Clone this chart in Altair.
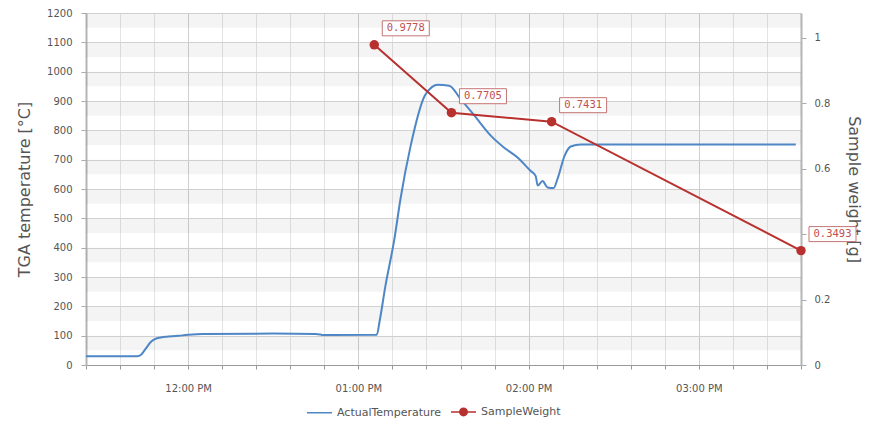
import altair as alt
import pandas as pd

# ---- data ----
temp_times = ["11:24:00", "11:42:00", "11:43:30", "11:45:00", "11:47:00", "11:49:00",
              "11:53:00", "11:58:00", "12:05:00", "12:30:00", "12:45:00", "12:48:00",
              "13:06:30", "13:07:30", "13:09:30", "13:12:40", "13:14:50", "13:18:25",
              "13:23:20", "13:26:00", "13:28:00", "13:32:00", "13:36:00", "13:41:00",
              "13:46:35", "13:51:30", "13:56:00", "14:00:40", "14:02:30", "14:03:10",
              "14:04:55", "14:06:40", "14:08:50", "14:10:10", "14:12:40", "14:14:50",
              "14:18:25", "15:34:10"]
temp_values = [30, 30, 36, 55, 80, 91,
               97, 101, 106, 107, 106, 102,
               103, 150, 268, 428, 566, 747,
               917, 948, 955, 952, 907, 849,
               783, 740, 708, 662, 644, 612,
               627, 605, 603, 634, 713, 745,
               752, 752]

weight_times = ["13:05:36", "13:32:48", "14:08:06", "15:36:00"]
weight_values = [0.9778, 0.7705, 0.7431, 0.3493]

series_names = ["ActualTemperature", "SampleWeight"]
series_colors = ["#4f86c6", "#b8312f"]

temp_ticks = list(range(0, 1201, 100))
weight_ticks = [0, 0.2, 0.4, 0.6, 0.8, 1]

DAY = "2024-01-01T"
temp_df = pd.DataFrame({"time": [DAY + t for t in temp_times], "temp": temp_values})
weight_df = pd.DataFrame({"time": [DAY + t for t in weight_times], "w": weight_values})
legend_df = pd.DataFrame({"series": series_names})
band_df = pd.DataFrame({"lo": [v + 50 for v in temp_ticks[:-1]],
                        "hi": [v + 100 for v in temp_ticks[:-1]]})


def dt(h, m):
    return alt.DateTime(year=2024, month=1, date=1, hours=h, minutes=m)


x_values = [dt((11 * 60 + 24 + 12 * i) // 60, (11 * 60 + 24 + 12 * i) % 60) for i in range(22)]

FONT = "DejaVu Sans"
x_axis = alt.Axis(
    values=x_values,
    labelExpr="minutes(datum.value) == 0 ? timeFormat(datum.value, '%I:%M %p') : ''",
    title=None, grid=True,
    gridColor=alt.condition("minutes(datum.value) == 0", alt.value("#cfcfcf"), alt.value("#e4e4e4")),
    tickSize=4, tickColor="#999", domainColor="#999", labelPadding=14,
    labelFont=FONT, labelFontSize=10, labelColor="#555",
)
x_scale = alt.Scale(domain=[dt(11, 24), dt(15, 36)])
x_enc = alt.X("time:T", scale=x_scale, axis=x_axis)

y_temp_axis = alt.Axis(
    values=temp_ticks, title="TGA temperature [°C]", orient="left", format="d",
    grid=True, gridColor="#d9d9d9", tickSize=5, tickColor="#aaa",
    domainColor="#b5b5b5", domainWidth=2, labelPadding=9,
    labelFont=FONT, labelFontSize=10, labelColor="#555",
    titleFont=FONT, titleFontSize=16, titleFontWeight="normal", titleColor="#555",
    titlePadding=14,
)
y_temp_scale = alt.Scale(domain=[0, 1200], nice=False)

y_w_axis = alt.Axis(
    values=weight_ticks, title="Sample weight [g]", orient="right",
    labelExpr="datum.value == 0.4 ? '' : format(datum.value, '~g')",
    grid=False, tickSize=5, tickColor="#aaa", domainColor="#b5b5b5", domainWidth=2,
    labelPadding=8, labelFont=FONT, labelFontSize=10, labelColor="#555",
    titleFont=FONT, titleFontSize=16, titleFontWeight="normal", titleColor="#555",
    titlePadding=16,
)
y_w_scale = alt.Scale(domain=[0, 1.075], nice=False)

bands = alt.Chart(band_df).mark_rect(color="#000", opacity=0.045).encode(
    y=alt.Y("lo:Q", scale=y_temp_scale, axis=y_temp_axis),
    y2="hi:Q",
)
temp_line = alt.Chart(temp_df).mark_line(color=series_colors[0], strokeWidth=2,
                                         interpolate="monotone").encode(
    x=x_enc,
    y=alt.Y("temp:Q", scale=y_temp_scale, axis=y_temp_axis),
)
temp_group = alt.layer(bands, temp_line)

y_w = alt.Y("w:Q", scale=y_w_scale, axis=y_w_axis)
w_line = alt.Chart(weight_df).mark_line(color=series_colors[1], strokeWidth=2).encode(x=x_enc, y=y_w)
w_pts = alt.Chart(weight_df).mark_point(filled=True, opacity=1, size=90,
                                        color=series_colors[1]).encode(x=x_enc, y=y_w)
w_box = alt.Chart(weight_df).mark_rect(fill="white", stroke="#c47474", strokeWidth=1,
                                       xOffset=8, x2Offset=55, yOffset=-24, y2Offset=-9).encode(
    x=x_enc, x2="time:T", y=y_w, y2="w:Q")
w_txt = alt.Chart(weight_df).mark_text(dx=31.5, dy=-16.5, font="DejaVu Sans Mono", fontSize=10.5,
                                       color="#c0504d", align="center", baseline="middle").encode(
    x=x_enc, y=y_w, text=alt.Text("w:Q", format=".4f"))

sym_paths = ["M-1,0L1,0",
             "M-1,0L1,0M0.3,0A0.3,0.3,0,1,1,-0.3,0A0.3,0.3,0,1,1,0.3,0Z"]
leg = alt.Legend(title=None, orient="none", direction="horizontal", legendX=220, legendY=385,
                 symbolSize=625, symbolStrokeWidth=1.5, labelFont=FONT,
                 labelFontSize=11, labelColor="#555", columnPadding=6, labelOffset=4)
legend_layer = alt.Chart(legend_df).transform_filter("datum.series == 'none'").mark_point(
    filled=True, opacity=1, strokeWidth=1.5).encode(
    fill=alt.Fill("series:N", scale=alt.Scale(domain=series_names, range=series_colors), legend=leg),
    stroke=alt.Stroke("series:N", scale=alt.Scale(domain=series_names, range=series_colors), legend=leg),
    shape=alt.Shape("series:N", scale=alt.Scale(domain=series_names, range=sym_paths), legend=leg),
)

weight_group = alt.layer(w_line, w_pts, w_box, w_txt, legend_layer)

chart = alt.layer(temp_group, weight_group).resolve_scale(y="independent").properties(
    width=715, height=352, background="white",
    padding={"left": 8, "top": 0, "right": 4, "bottom": 0},
).configure_view(stroke="#d0d0d0", fill="#f8f8f8")

chart.save("out.html", embed_options={"renderer": "svg", "actions": False})
